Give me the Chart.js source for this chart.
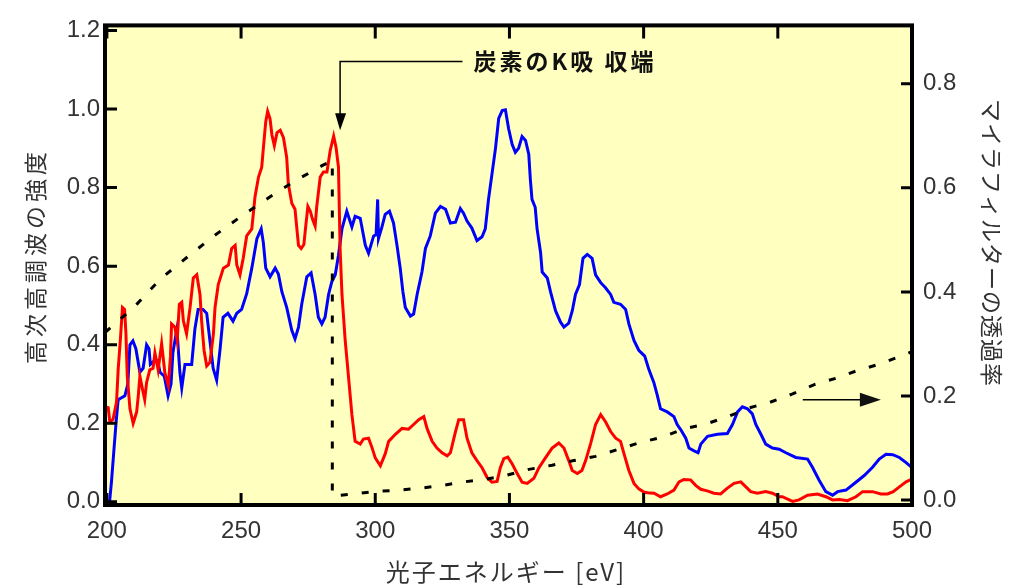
<!DOCTYPE html>
<html>
<head>
<meta charset="utf-8">
<script src="https://cdn.jsdelivr.net/npm/chart.js@4"></script>
<style>
  html, body { margin: 0; padding: 0; background: #fff; }
  canvas { display: block; }
</style>
</head>
<body>
<canvas id="chart" width="1011" height="585"></canvas>
<script>
// photon energy [eV] and normalised intensity, filter OFF (blue)
const energyBlue = [201.0, 201.7, 202.6, 203.4, 204.2, 206.7, 207.8, 208.6, 209.7, 210.8, 212.3, 213.5, 214.8, 215.7, 216.2, 217.8, 218.9, 219.8, 221.4, 222.8, 223.9, 224.6, 226.1, 227.2, 227.9, 229.1, 231.6, 232.8, 234.0, 235.8, 237.2, 238.4, 239.6, 240.9, 242.2, 243.3, 245.1, 247.0, 248.4, 250.2, 252.1, 254.0, 255.9, 257.5, 258.3, 259.2, 260.8, 262.7, 263.9, 265.2, 267.0, 268.9, 270.1, 271.4, 272.6, 274.5, 276.1, 277.6, 278.8, 280.1, 281.3, 282.6, 283.8, 285.1, 286.3, 287.6, 289.4, 291.3, 292.5, 294.4, 296.3, 297.5, 299.4, 300.3, 300.9, 301.2, 302.5, 303.7, 305.3, 306.8, 308.1, 309.3, 310.3, 311.2, 313.1, 314.3, 315.6, 317.4, 318.7, 320.5, 322.4, 324.3, 326.2, 328.0, 329.9, 331.7, 332.9, 334.2, 336.0, 337.9, 339.8, 341.0, 342.2, 343.5, 344.8, 346.0, 347.3, 348.5, 349.7, 351.0, 352.2, 353.4, 354.7, 356.0, 357.2, 357.8, 358.4, 359.6, 360.3, 361.6, 362.2, 364.1, 365.3, 367.2, 369.0, 370.3, 372.1, 373.4, 374.6, 376.1, 377.4, 379.0, 380.8, 382.1, 384.0, 385.8, 387.7, 388.9, 391.4, 393.3, 394.5, 396.4, 398.2, 400.4, 402.0, 403.8, 405.1, 406.3, 408.8, 411.3, 412.5, 413.8, 415.7, 416.9, 418.8, 420.3, 421.3, 423.8, 427.5, 431.2, 433.1, 435.0, 436.8, 438.7, 440.5, 441.8, 443.7, 445.5, 448.0, 450.5, 453.0, 456.7, 461.1, 462.9, 465.4, 467.9, 470.4, 472.3, 475.4, 479.1, 482.2, 485.3, 487.8, 490.3, 492.8, 495.3, 497.8, 500.0];
const intensityBlue = [0.00, 0.05, 0.13, 0.20, 0.26, 0.27, 0.30, 0.40, 0.41, 0.39, 0.33, 0.34, 0.40, 0.39, 0.35, 0.36, 0.36, 0.33, 0.32, 0.27, 0.30, 0.38, 0.44, 0.33, 0.29, 0.35, 0.35, 0.44, 0.49, 0.49, 0.48, 0.41, 0.34, 0.31, 0.39, 0.47, 0.48, 0.46, 0.48, 0.49, 0.53, 0.595, 0.67, 0.695, 0.66, 0.595, 0.573, 0.595, 0.58, 0.535, 0.495, 0.437, 0.415, 0.445, 0.503, 0.573, 0.583, 0.528, 0.47, 0.453, 0.47, 0.528, 0.56, 0.578, 0.628, 0.695, 0.74, 0.70, 0.727, 0.722, 0.653, 0.633, 0.677, 0.68, 0.77, 0.67, 0.70, 0.732, 0.74, 0.71, 0.653, 0.595, 0.535, 0.495, 0.473, 0.478, 0.528, 0.585, 0.645, 0.677, 0.735, 0.752, 0.745, 0.71, 0.712, 0.747, 0.735, 0.715, 0.697, 0.665, 0.675, 0.695, 0.77, 0.835, 0.90, 0.976, 0.996, 0.998, 0.95, 0.91, 0.89, 0.90, 0.93, 0.92, 0.885, 0.82, 0.77, 0.75, 0.695, 0.635, 0.585, 0.57, 0.535, 0.486, 0.458, 0.445, 0.455, 0.486, 0.528, 0.553, 0.62, 0.63, 0.62, 0.578, 0.558, 0.545, 0.528, 0.508, 0.503, 0.49, 0.453, 0.411, 0.386, 0.371, 0.336, 0.304, 0.271, 0.237, 0.229, 0.217, 0.197, 0.184, 0.162, 0.137, 0.13, 0.125, 0.147, 0.167, 0.172, 0.174, 0.197, 0.229, 0.242, 0.237, 0.224, 0.197, 0.172, 0.147, 0.137, 0.134, 0.125, 0.113, 0.109, 0.088, 0.055, 0.026, 0.017, 0.026, 0.03, 0.05, 0.067, 0.088, 0.109, 0.121, 0.12, 0.113, 0.10, 0.087];

// filter ON (red)
const energyRed = [199.3, 200.5, 201.1, 202.3, 203.6, 204.2, 205.1, 205.8, 206.6, 207.1, 207.6, 208.6, 209.8, 211.1, 211.7, 212.3, 213.5, 214.1, 214.8, 216.0, 217.2, 217.9, 219.1, 220.4, 221.6, 222.9, 223.7, 224.1, 225.3, 226.2, 227.0, 227.9, 228.5, 229.7, 231.0, 232.2, 233.5, 234.7, 235.3, 236.2, 237.2, 238.4, 239.7, 240.3, 241.5, 243.4, 245.3, 246.5, 247.8, 248.4, 249.6, 250.8, 252.1, 254.0, 255.2, 256.5, 257.7, 258.3, 259.2, 259.9, 260.8, 261.5, 262.4, 263.4, 264.6, 265.8, 267.0, 267.6, 268.9, 270.1, 270.8, 271.4, 272.4, 273.4, 274.1, 274.9, 275.8, 276.6, 277.6, 278.2, 279.5, 280.7, 282.0, 283.2, 284.5, 285.4, 286.3, 286.9, 287.6, 288.8, 290.0, 291.3, 292.5, 294.4, 295.6, 297.5, 298.7, 300.0, 301.9, 303.7, 305.0, 307.5, 310.0, 312.4, 314.3, 316.2, 318.1, 319.3, 321.2, 323.0, 324.9, 326.8, 328.0, 329.9, 331.1, 332.9, 334.2, 336.0, 337.9, 339.8, 341.7, 343.5, 345.4, 346.6, 347.9, 349.4, 351.0, 352.9, 354.7, 356.6, 359.1, 361.0, 363.4, 365.9, 368.4, 370.3, 372.1, 373.4, 375.3, 377.0, 378.4, 380.2, 382.1, 384.0, 385.8, 387.7, 389.6, 391.4, 392.7, 394.5, 396.4, 398.2, 400.1, 401.4, 403.9, 406.3, 408.8, 411.3, 413.2, 415.0, 417.5, 419.4, 421.3, 423.7, 426.2, 428.7, 431.2, 433.7, 436.2, 438.1, 439.9, 442.4, 445.5, 448.0, 450.5, 451.7, 455.5, 457.9, 461.1, 464.8, 467.9, 470.4, 473.0, 476.0, 479.1, 481.6, 485.3, 488.4, 490.9, 493.0, 495.3, 497.8, 500.0];
const intensityRed = [0.242, 0.24, 0.204, 0.21, 0.254, 0.336, 0.42, 0.495, 0.49, 0.428, 0.32, 0.237, 0.20, 0.229, 0.27, 0.32, 0.279, 0.26, 0.304, 0.336, 0.34, 0.379, 0.336, 0.403, 0.329, 0.296, 0.371, 0.453, 0.445, 0.411, 0.503, 0.508, 0.461, 0.428, 0.495, 0.57, 0.578, 0.528, 0.461, 0.386, 0.346, 0.355, 0.428, 0.495, 0.553, 0.595, 0.603, 0.645, 0.653, 0.603, 0.578, 0.62, 0.677, 0.695, 0.777, 0.827, 0.852, 0.90, 0.968, 0.994, 0.975, 0.934, 0.907, 0.94, 0.946, 0.927, 0.877, 0.81, 0.76, 0.745, 0.695, 0.653, 0.645, 0.655, 0.702, 0.752, 0.74, 0.72, 0.702, 0.752, 0.827, 0.84, 0.84, 0.894, 0.931, 0.902, 0.852, 0.645, 0.528, 0.411, 0.321, 0.222, 0.154, 0.147, 0.16, 0.162, 0.14, 0.112, 0.092, 0.122, 0.154, 0.172, 0.187, 0.185, 0.197, 0.209, 0.217, 0.187, 0.154, 0.137, 0.125, 0.117, 0.125, 0.179, 0.209, 0.209, 0.162, 0.125, 0.105, 0.087, 0.062, 0.05, 0.052, 0.087, 0.11, 0.114, 0.097, 0.072, 0.05, 0.047, 0.06, 0.087, 0.112, 0.137, 0.15, 0.137, 0.105, 0.08, 0.072, 0.08, 0.105, 0.147, 0.197, 0.222, 0.204, 0.179, 0.162, 0.154, 0.122, 0.08, 0.047, 0.033, 0.025, 0.023, 0.022, 0.013, 0.02, 0.03, 0.051, 0.057, 0.056, 0.042, 0.032, 0.028, 0.022, 0.02, 0.035, 0.047, 0.051, 0.038, 0.026, 0.022, 0.026, 0.022, 0.013, 0.013, 0.001, 0.005, 0.017, 0.02, 0.013, 0.005, 0.006, 0.003, 0.013, 0.026, 0.026, 0.02, 0.02, 0.026, 0.038, 0.051, 0.058];

// mylar filter transmission (right axis, dashed)
const energyFilter = [199.3, 210, 220, 230, 240, 250, 260, 270, 280, 284.0, 284.0, 292.5, 300.6, 308.6, 316.8, 324.9, 333.0, 341.0, 349.1, 357.2, 365.9, 374.0, 382.1, 390.8, 398.9, 407.0, 414.4, 423.1, 431.2, 439.3, 447.6, 455.5, 463.6, 471.6, 479.7, 487.8, 496.5, 500.0];
const transmission = [0.322, 0.37, 0.425, 0.467, 0.508, 0.545, 0.58, 0.613, 0.642, 0.652, 0.008, 0.012, 0.017, 0.019, 0.023, 0.028, 0.035, 0.040, 0.048, 0.059, 0.067, 0.076, 0.084, 0.098, 0.111, 0.121, 0.136, 0.146, 0.160, 0.177, 0.189, 0.204, 0.222, 0.234, 0.249, 0.261, 0.278, 0.285];

const xTicks = [200, 250, 300, 350, 400, 450, 500];
const yTicks = [0, 0.2, 0.4, 0.6, 0.8, 1.0, 1.2];
const y2Ticks = [0, 0.2, 0.4, 0.6, 0.8];

const toPoints = (xs, ys) => xs.map((x, i) => ({ x: x, y: ys[i] }));
const tickFont = { family: "'Liberation Sans', Arial, sans-serif", size: 24 };
const cjk = "'Noto Sans CJK JP', sans-serif";

// annotation anchors in data units
const edgeNote = { text: "炭素のK吸 収端", textX: 336.6, lineY: 1.121, arrowX: 286.9, tipY: 0.946, lineEndX: 332.5 };
const filterNote = { fromX: 459.3, toX: 488.4, y: 0.193 };

const framePlugin = {
  id: "frame",
  beforeDatasetsDraw(chart) {
    const { ctx, chartArea: a } = chart;
    ctx.save();
    ctx.fillStyle = "#ffffc0";
    ctx.fillRect(a.left, a.top, a.right - a.left, a.bottom - a.top);
    ctx.restore();
  },
  afterDatasetsDraw(chart) {
    const { ctx, chartArea: a, scales } = chart;
    ctx.save();
    ctx.strokeStyle = "#000";
    ctx.lineWidth = 3;
    ctx.beginPath();
    xTicks.forEach((v) => {
      const px = scales.x.getPixelForValue(v);
      ctx.moveTo(px, a.bottom); ctx.lineTo(px, a.bottom - 12);
      ctx.moveTo(px, a.top); ctx.lineTo(px, a.top + 13);
    });
    yTicks.forEach((v) => {
      const py = scales.y.getPixelForValue(v);
      ctx.moveTo(a.left, py); ctx.lineTo(a.left + 12, py);
    });
    y2Ticks.forEach((v) => {
      const py = scales.y2.getPixelForValue(v);
      ctx.moveTo(a.right, py); ctx.lineTo(a.right - 11, py);
    });
    ctx.stroke();
    ctx.lineWidth = 4;
    ctx.strokeRect(a.left, a.top, a.right - a.left, a.bottom - a.top);

    // carbon K-edge arrow
    const { x, y, y2 } = scales;
    const ax = x.getPixelForValue(edgeNote.arrowX);
    const ly = y.getPixelForValue(edgeNote.lineY);
    const ty = y.getPixelForValue(edgeNote.tipY);
    ctx.lineWidth = 1.5;
    ctx.beginPath();
    ctx.moveTo(x.getPixelForValue(edgeNote.lineEndX), ly);
    ctx.lineTo(ax, ly);
    ctx.lineTo(ax, ty - 14);
    ctx.stroke();
    ctx.fillStyle = "#000";
    ctx.beginPath();
    ctx.moveTo(ax - 5, ty - 17);
    ctx.lineTo(ax + 6, ty - 17);
    ctx.lineTo(ax, ty);
    ctx.closePath();
    ctx.fill();
    ctx.font = "bold 23px " + cjk;
    ctx.textBaseline = "middle";
    ctx.textAlign = "left";
    ctx.fillStyle = "#111";
    ctx.letterSpacing = "3px";
    ctx.fillText(edgeNote.text, x.getPixelForValue(edgeNote.textX), ly);

    // arrow pointing to the right axis
    const fy = y2.getPixelForValue(filterNote.y);
    const fx0 = x.getPixelForValue(filterNote.fromX);
    const fx1 = x.getPixelForValue(filterNote.toX);
    ctx.beginPath();
    ctx.moveTo(fx0, fy);
    ctx.lineTo(fx1 - 18, fy);
    ctx.stroke();
    ctx.beginPath();
    ctx.moveTo(fx1 - 21, fy - 7);
    ctx.lineTo(fx1, fy);
    ctx.lineTo(fx1 - 21, fy + 7);
    ctx.closePath();
    ctx.fill();

    // axis titles
    ctx.fillStyle = "#333";
    ctx.font = "24px " + cjk;
    ctx.textAlign = "center";
    ctx.letterSpacing = "2px";
    ctx.fillText("光子エネルギー [eV]", 506, 572);
    ctx.font = "23px " + cjk;
    ctx.letterSpacing = "4px";
    ctx.translate(35, 256);
    ctx.rotate(-Math.PI / 2);
    ctx.fillText("高次高調波の強度", 0, 0);
    ctx.setTransform(1, 0, 0, 1, 0, 0);
    ctx.letterSpacing = "1px";
    ctx.translate(992, 243);
    ctx.rotate(Math.PI / 2);
    ctx.fillText("マイラフィルターの透過率", 0, 0);
    ctx.restore();
  },
};

new Chart(document.getElementById("chart"), {
  type: "line",
  data: {
    datasets: [
      {
        label: "filter",
        data: toPoints(energyFilter, transmission),
        yAxisID: "y2",
        borderColor: "#000",
        borderWidth: 3,
        borderDash: [7, 14],
        pointRadius: 0,
        tension: 0,
        order: 0,
      },
      {
        label: "red",
        data: toPoints(energyRed, intensityRed),
        yAxisID: "y",
        borderColor: "#ff0000",
        borderWidth: 3,
        pointRadius: 0,
        tension: 0,
        order: 1,
      },
      {
        label: "blue",
        data: toPoints(energyBlue, intensityBlue),
        yAxisID: "y",
        borderColor: "#0000ff",
        borderWidth: 3,
        pointRadius: 0,
        tension: 0,
        order: 2,
      },
    ],
  },
  options: {
    responsive: false,
    animation: false,
    layout: { padding: { top: 15, left: 0, right: 0, bottom: 0 } },
    plugins: { legend: { display: false }, tooltip: { enabled: false } },
    scales: {
      x: {
        type: "linear",
        min: 199.3,
        max: 500,
        afterFit: (s) => { s.height = 80; },
        afterBuildTicks: (s) => { s.ticks = xTicks.map((v) => ({ value: v })); },
        grid: { display: false, drawTicks: false },
        border: { display: false },
        ticks: { font: tickFont, color: "#333", padding: 12, maxRotation: 0 },
      },
      y: {
        position: "left",
        min: -0.008,
        max: 1.213,
        afterFit: (s) => { s.width = 105; },
        afterBuildTicks: (s) => { s.ticks = yTicks.map((v) => ({ value: v })); },
        grid: { display: false, drawTicks: false },
        border: { display: false },
        ticks: { font: tickFont, color: "#333", padding: 5, callback: (v) => v.toFixed(1) },
      },
      y2: {
        position: "right",
        min: -0.0094,
        max: 0.912,
        afterFit: (s) => { s.width = 99; },
        afterBuildTicks: (s) => { s.ticks = y2Ticks.map((v) => ({ value: v })); },
        grid: { display: false, drawTicks: false },
        border: { display: false },
        ticks: { font: tickFont, color: "#333", padding: 11, callback: (v) => v.toFixed(1) },
      },
    },
  },
  plugins: [framePlugin],
});
</script>
</body>
</html>
